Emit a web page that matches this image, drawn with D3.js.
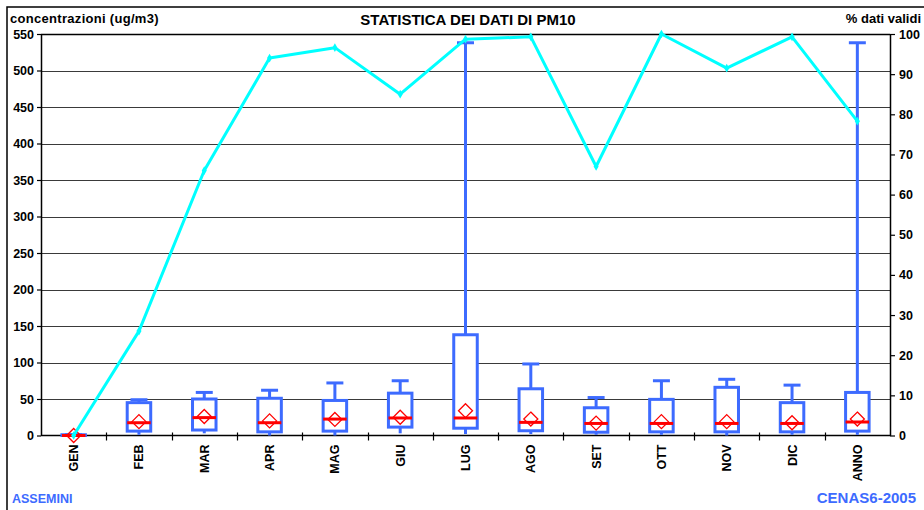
<!DOCTYPE html>
<html>
<head>
<meta charset="utf-8">
<script src="https://cdn.jsdelivr.net/npm/d3@7/dist/d3.min.js"></script>
<style>
  html, body { margin: 0; padding: 0; background: #fff; }
  svg { display: block; font-family: "Liberation Sans", Arial, sans-serif; font-weight: bold; }
</style>
</head>
<body>
<div id="chart"></div>
<script>
// categories
const months = ["GEN", "FEB", "MAR", "APR", "MAG", "GIU", "LUG", "AGO", "SET", "OTT", "NOV", "DIC", "ANNO"];

// box plot statistics (ug/m3)
const minVal = [0, 1, 3, 0, 0, 3, 2, 2, 1, 1, 0, 1, 1];
const q1Val = [0, 6, 7.5, 5, 6, 11.5, 10, 6.5, 4.5, 5, 5, 5, 6];
const medianVal = [0, 17.5, 24.5, 17.5, 22.5, 24, 24, 18, 16.5, 16.5, 16.5, 16.5, 18.5];
const q3Val = [1, 45, 50, 51, 48, 58, 138, 64, 38, 49.5, 66, 45, 59];
const maxVal = [1, 49, 59, 62, 72, 75, 538, 98, 52, 75, 77, 69, 538];
const meanVal = [0, 19, 26, 20, 22, 25, 34, 22.5, 17, 19, 19, 17.5, 22.5];

// % dati validi
const pctValid = [0, 26, 66, 94, 96.6, 85, 98.7, 99.3, 67, 100, 91.5, 99.3, 78.3];

// tick labels
const leftTicks = d3.range(0, 551, 50);
const rightTicks = d3.range(0, 101, 10);

const width = 924, height = 510;
const plot = {left: 41, right: 890, top: 34, bottom: 435.5};
const boxBlue = "#3d6bff";

const svg = d3.select("#chart").append("svg")
    .attr("width", width)
    .attr("height", height);

// outer frame (cropped at right/bottom like the original)
svg.append("rect")
    .attr("x", 7).attr("y", 7)
    .attr("width", 1000).attr("height", 1000)
    .attr("fill", "none")
    .attr("stroke", "#000")
    .attr("stroke-width", 1.5);

const x = d3.scaleBand()
    .domain(months)
    .range([plot.left, plot.right]);

const y = d3.scaleLinear()
    .domain([0, 550])
    .range([plot.bottom, plot.top]);

const y2 = d3.scaleLinear()
    .domain([0, 100])
    .range([plot.bottom, plot.top]);

// gridlines
svg.append("g")
    .selectAll("line")
    .data(leftTicks.filter(d => d > 0))
    .enter().append("line")
    .attr("x1", plot.left)
    .attr("x2", plot.right)
    .attr("y1", d => Math.round(y(d)) + 0.5)
    .attr("y2", d => Math.round(y(d)) + 0.5)
    .attr("stroke", d => d === 550 ? "#000" : "#3a3a3a")
    .attr("stroke-width", d => d === 550 ? 1.5 : 1);

// left axis
const gLeft = svg.append("g")
    .attr("transform", "translate(" + plot.left + ",0)")
    .call(d3.axisLeft(y).tickValues(leftTicks).tickSizeInner(4).tickSizeOuter(0).tickPadding(3));

// right axis
const gRight = svg.append("g")
    .attr("transform", "translate(" + plot.right + ",0)")
    .call(d3.axisRight(y2).tickValues(rightTicks).tickSizeInner(5).tickSizeOuter(0).tickPadding(4));

[gLeft, gRight].forEach(g => {
    g.selectAll("text")
        .style("font-family", "Liberation Sans, Arial, sans-serif")
        .style("font-weight", "bold")
        .style("font-size", "12.5px")
        .attr("fill", "#000");
    g.select(".domain").attr("stroke", "#000").attr("stroke-width", 1.5);
    g.selectAll(".tick line").attr("stroke", "#000").attr("stroke-width", 1.2);
});

// bottom axis: baseline, boundary ticks, rotated labels
svg.append("line")
    .attr("x1", plot.left).attr("x2", plot.right)
    .attr("y1", y(0)).attr("y2", y(0))
    .attr("stroke", "#000").attr("stroke-width", 1.5);

svg.append("g")
    .selectAll("line")
    .data(months.slice(1))
    .enter().append("line")
    .attr("x1", d => Math.round(x(d)) + 0.5)
    .attr("x2", d => Math.round(x(d)) + 0.5)
    .attr("y1", y(0) - 3)
    .attr("y2", y(0) + 5)
    .attr("stroke", "#000")
    .attr("stroke-width", 1.2);

svg.append("g")
    .selectAll("text")
    .data(months)
    .enter().append("text")
    .attr("transform", d => "translate(" + (x(d) + x.bandwidth() / 2) + "," + (y(0) + 9) + ") rotate(-90)")
    .attr("dy", "0.36em")
    .attr("text-anchor", "end")
    .style("font-size", "12.5px")
    .text(d => d);

// box plots
const boxW = x.bandwidth() * 0.36;
const capW = x.bandwidth() * 0.26;

const boxes = svg.append("g")
    .selectAll("g")
    .data(months)
    .enter().append("g")
    .attr("transform", d => "translate(" + (x(d) + x.bandwidth() / 2) + ",0)");

// lower whisker
boxes.append("line")
    .attr("x1", 0).attr("x2", 0)
    .attr("y1", (d, i) => y(minVal[i]))
    .attr("y2", (d, i) => y(q1Val[i]))
    .attr("stroke", boxBlue).attr("stroke-width", 3);

// upper whisker
boxes.append("line")
    .attr("x1", 0).attr("x2", 0)
    .attr("y1", (d, i) => y(q3Val[i]))
    .attr("y2", (d, i) => y(maxVal[i]))
    .attr("stroke", boxBlue).attr("stroke-width", 3);

// cap
boxes.append("line")
    .attr("x1", -capW / 2).attr("x2", capW / 2)
    .attr("y1", (d, i) => y(maxVal[i]))
    .attr("y2", (d, i) => y(maxVal[i]))
    .attr("stroke", boxBlue).attr("stroke-width", 3);

// box
boxes.append("rect")
    .attr("x", -boxW / 2)
    .attr("width", boxW)
    .attr("y", (d, i) => y(q3Val[i]))
    .attr("height", (d, i) => y(q1Val[i]) - y(q3Val[i]))
    .attr("fill", "#fff")
    .attr("stroke", boxBlue)
    .attr("stroke-width", 3);

// median
boxes.append("line")
    .attr("x1", -boxW / 2).attr("x2", boxW / 2)
    .attr("y1", (d, i) => y(medianVal[i]))
    .attr("y2", (d, i) => y(medianVal[i]))
    .attr("stroke", "#ff0000").attr("stroke-width", 3);

// mean diamond
const dm = 7;
boxes.append("path")
    .attr("d", (d, i) => {
        const cy = y(meanVal[i]);
        return "M0," + (cy - dm) + "L" + dm + "," + cy + "L0," + (cy + dm) + "L" + (-dm) + "," + cy + "Z";
    })
    .attr("fill", "none")
    .attr("stroke", "#ff0000")
    .attr("stroke-width", 1.3);

// % dati validi line
const line = d3.line()
    .x((d, i) => x(months[i]) + x.bandwidth() / 2)
    .y(d => y2(d));

svg.append("path")
    .datum(pctValid)
    .attr("d", line)
    .attr("fill", "none")
    .attr("stroke", "#00ffff")
    .attr("stroke-width", 3)
    .attr("stroke-linejoin", "round");

svg.append("g")
    .selectAll("path")
    .data(pctValid)
    .enter().append("path")
    .attr("transform", (d, i) => "translate(" + (x(months[i]) + x.bandwidth() / 2) + "," + y2(d) + ")")
    .attr("d", d3.symbol().type(d3.symbolDiamond).size(22))
    .attr("fill", "#00ffff");

// titles
svg.append("text")
    .attr("x", 10).attr("y", 23)
    .style("font-size", "13px")
    .style("letter-spacing", "0.3px")
    .text("concentrazioni (ug/m3)");

svg.append("text")
    .attr("x", 468).attr("y", 25)
    .attr("text-anchor", "middle")
    .style("font-size", "15px")
    .text("STATISTICA DEI DATI DI PM10");

svg.append("text")
    .attr("x", 921).attr("y", 23)
    .attr("text-anchor", "end")
    .style("font-size", "13px")
    .text("% dati validi");

svg.append("text")
    .attr("x", 12).attr("y", 503)
    .attr("fill", boxBlue)
    .style("font-size", "12.5px")
    .text("ASSEMINI");

svg.append("text")
    .attr("x", 916).attr("y", 503)
    .attr("text-anchor", "end")
    .attr("fill", boxBlue)
    .style("font-size", "15px")
    .text("CENAS6-2005");
</script>
</body>
</html>
